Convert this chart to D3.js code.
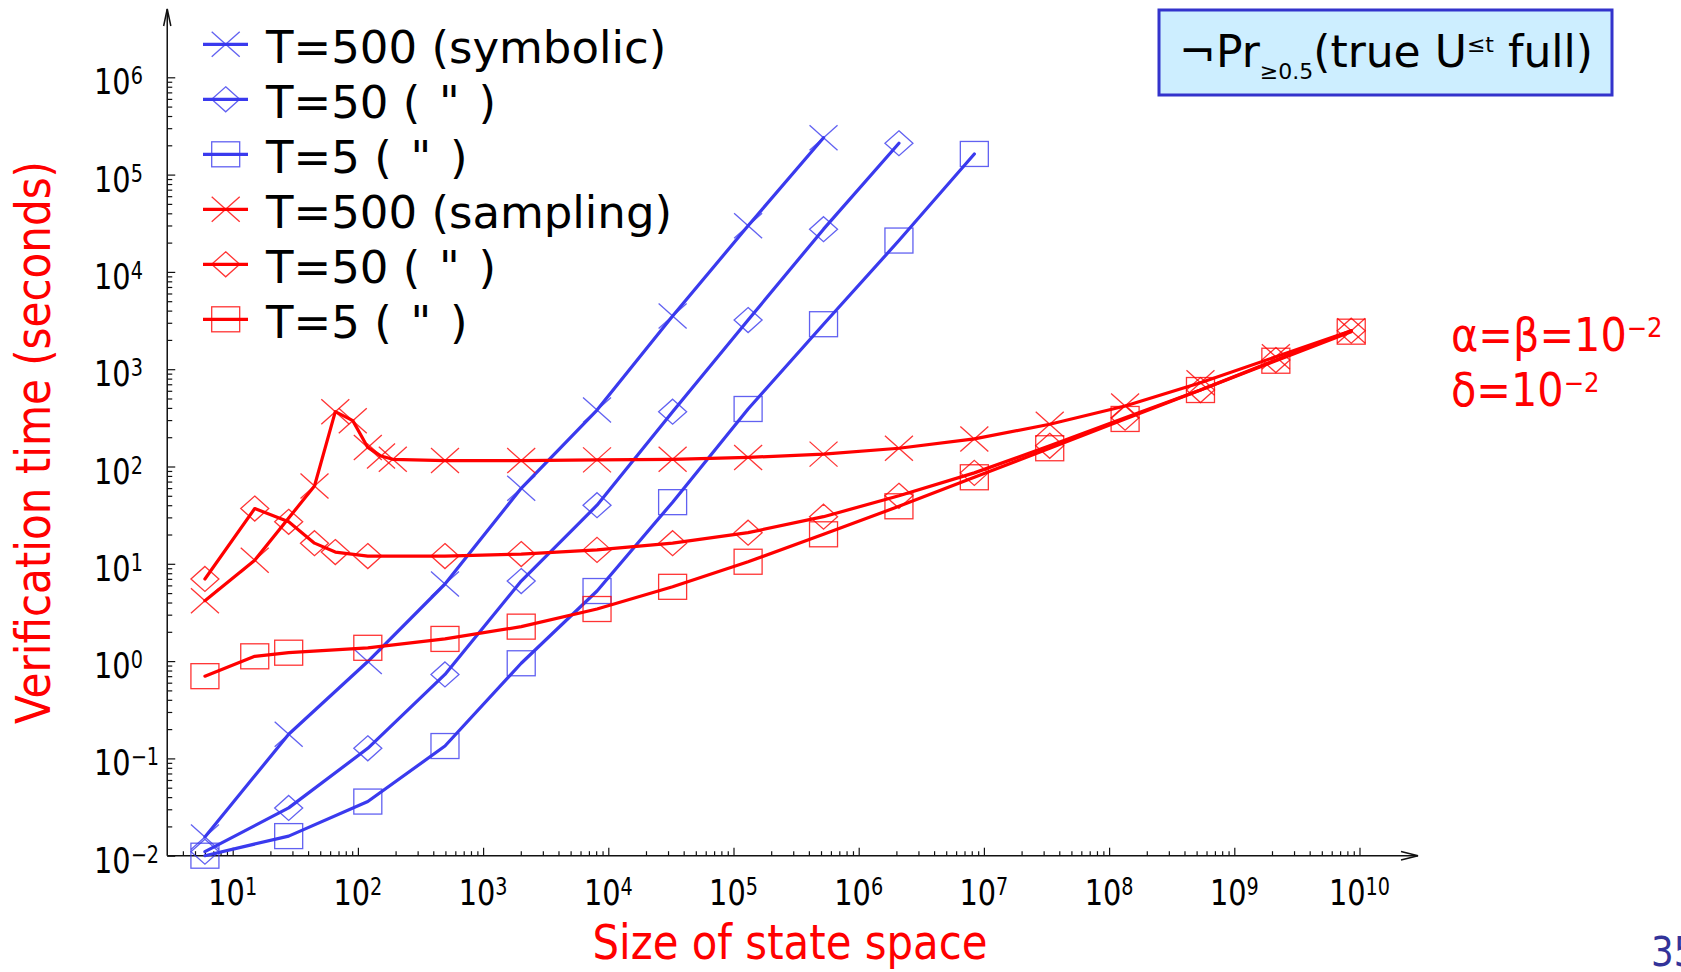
<!DOCTYPE html>
<html lang="en">
<head>
<meta charset="UTF-8">
<title>Verification time vs size of state space</title>
<style>
  html, body { margin: 0; padding: 0; background: #fff; overflow: hidden; }
  svg { display: block; }
  text { font-family: "DejaVu Sans", Verdana, sans-serif; }
</style>
</head>
<body>
<svg id="chart" width="1681" height="972"></svg>
<script src="https://cdn.jsdelivr.net/npm/d3@7/dist/d3.min.js"></script>
<script>
// Size of state space for each model instance (x values)
const stateSize = [6, 15, 28, 45, 66, 91, 120, 153, 190, 496, 2016, 8128, 32640, 130816,
  523776, 2096128, 8386560, 33550336, 134209536, 536854528, 2147450880, 8589869056];

// Verification time in seconds, aligned with stateSize (null = no point)
const symT500 = [0.0156, null, 0.177, null, null, null, 0.99, null, null, 6.2, 59.7, 380, 3520, 29800,
  239000, null, null, null, null, null, null, null];
const symT50 = [0.011, null, 0.031, null, null, null, 0.127, null, null, 0.73, 6.65, 40, 366, 3200,
  27500, 210000, null, null, null, null, null, null];
const symT5 = [0.0100, null, 0.0159, null, null, null, 0.036, null, null, 0.134, 0.95, 5.25, 43, 390,
  2900, 21000, 163000, null, null, null, null, null];
const smpT500 = [4.18, 10.9, null, 63, 366, 296, 157, 128, 118.5, 115, 115, 117, 118.5, 124,
  134, 154, 192, 272, 419, 726, 1343, 2490];
const smpT50 = [6.98, 37, 27, 16.3, 13.2, null, 12.0, null, null, 12.0, 12.6, 13.9, 16.3, 20.9,
  30.5, 50, 86, 163, 317, 611, 1242, 2490];
const smpT5 = [0.70, 1.12, 1.22, null, null, null, 1.37, null, null, 1.69, 2.26, 3.43, 5.8, 10.5,
  20.1, 39, 77.5, 154, 308, 611, 1222, 2430];

const legendLabels = ['T=500 (symbolic)', 'T=50 ( \u200a"\u200a )', 'T=5 ( \u200a"\u200a )',
  'T=500 (sampling)', 'T=50 ( \u200a"\u200a )', 'T=5 ( \u200a"\u200a )'];
const xExponents = [1, 2, 3, 4, 5, 6, 7, 8, 9, 10];
const yExponents = [-2, -1, 0, 1, 2, 3, 4, 5, 6];

const BLUE = '#3a3aee', RED = '#ff0000';

const series = [
  { vals: symT500, color: BLUE, shape: 'x' },
  { vals: symT50, color: BLUE, shape: 'diamond' },
  { vals: symT5, color: BLUE, shape: 'square' },
  { vals: smpT500, color: RED, shape: 'x' },
  { vals: smpT50, color: RED, shape: 'diamond' },
  { vals: smpT5, color: RED, shape: 'square' },
];

const svg = d3.select('#chart');

const x = d3.scaleLog().domain([10, 1e10]).range([232.7, 1359.5]);
const y = d3.scaleLog().domain([1e-2, 1e6]).range([855.7, 77.3]);
const x0 = x(3), y0 = y(1e-2);
const xEnd = 1418, yTop = 9;

// ---- ticks (major + minor) via d3 axes ----
const xMinor = [], yMinor = [];
for (let e = 0; e < 10; e++) for (let m = 2; m < 10; m++) { const v = m * Math.pow(10, e); if (v > 3) xMinor.push(v); }
for (let e = -2; e < 6; e++) for (let m = 2; m < 10; m++) yMinor.push(m * Math.pow(10, e));

function tickAxis(axis, transform) {
  svg.append('g').attr('transform', transform).attr('color', '#111')
    .call(axis)
    .call(g => g.select('.domain').remove())
    .call(g => g.selectAll('line').attr('stroke-width', 1.2));
}
tickAxis(d3.axisTop(x).tickValues(xMinor).tickSize(4.5).tickFormat(''), `translate(0,${y0})`);
tickAxis(d3.axisTop(x).tickValues(xExponents.map(e => Math.pow(10, e))).tickSize(8).tickFormat(''), `translate(0,${y0})`);
tickAxis(d3.axisRight(y).tickValues(yMinor).tickSize(5).tickFormat(''), `translate(${x0},0)`);
tickAxis(d3.axisRight(y).tickValues(yExponents.map(e => Math.pow(10, e))).tickSize(8).tickFormat(''), `translate(${x0},0)`);

// axis lines with open arrowheads
const axisG = svg.append('g').attr('fill', 'none').attr('stroke', '#111').attr('stroke-width', 1.5);
axisG.append('line').attr('x1', x0).attr('y1', y0).attr('x2', xEnd).attr('y2', y0);
axisG.append('line').attr('x1', x0).attr('y1', y0).attr('x2', x0).attr('y2', yTop);
axisG.append('polyline').attr('points', `${xEnd - 17},${y0 - 4.2} ${xEnd},${y0} ${xEnd - 17},${y0 + 4.2}`);
axisG.append('polyline').attr('points', `${x0 - 3.6},${yTop + 17} ${x0},${yTop} ${x0 + 3.6},${yTop + 17}`);

// ---- tick labels 10^n ----
function expText(e) { return e < 0 ? '\u2212' + (-e) : String(e); }
function powerLabel(tx, ty, e, anchor) {
  const t = svg.append('g').attr('transform', `translate(${tx},${ty}) scale(0.8,1)`)
    .append('text').attr('text-anchor', anchor).attr('fill', '#000');
  t.append('tspan').attr('font-size', 36).text('10');
  t.append('tspan').attr('font-size', 24).attr('dy', -10).text(expText(e));
}
xExponents.forEach(e => powerLabel(x(Math.pow(10, e)), 905, e, 'middle'));
yExponents.forEach(e => powerLabel(94, y(Math.pow(10, e)) + 17, e, 'start'));

// ---- axis titles ----
svg.append('text').attr('transform', 'translate(50,442.5) rotate(-90)')
  .attr('text-anchor', 'middle').attr('font-size', 48).attr('fill', RED)
  .attr('textLength', 563).attr('lengthAdjust', 'spacingAndGlyphs')
  .text('Verification time (seconds)');
svg.append('text').attr('x', 790).attr('y', 959)
  .attr('text-anchor', 'middle').attr('font-size', 48).attr('fill', RED)
  .attr('textLength', 395).attr('lengthAdjust', 'spacingAndGlyphs')
  .text('Size of state space');

// ---- markers ----
function drawMarker(g, shape, color) {
  const hw = 14, hh = 12.5;
  const m = g.append('g').attr('fill', 'none').attr('stroke', color)
    .attr('stroke-width', 1.3).attr('stroke-opacity', 0.8);
  if (shape === 'x') {
    m.append('line').attr('x1', -hw).attr('y1', -hh).attr('x2', hw).attr('y2', hh);
    m.append('line').attr('x1', -hw).attr('y1', hh).attr('x2', hw).attr('y2', -hh);
  } else if (shape === 'diamond') {
    m.append('polygon').attr('points', `0,${-hh} ${hw},0 0,${hh} ${-hw},0`);
  } else {
    m.append('rect').attr('x', -hw).attr('y', -hh).attr('width', 2 * hw).attr('height', 2 * hh);
  }
}

// ---- series ----
const line = d3.line().x(d => x(d[0])).y(d => y(d[1]));
const plot = svg.append('g');
series.forEach(s => {
  const pts = stateSize.map((v, i) => [v, s.vals[i]]).filter(d => d[1] != null);
  plot.append('path').datum(pts).attr('d', line)
    .attr('fill', 'none').attr('stroke', s.color).attr('stroke-width', 3.2)
    .attr('stroke-linejoin', 'round').attr('stroke-linecap', 'round');
  pts.forEach(d => drawMarker(plot.append('g').attr('transform', `translate(${x(d[0])},${y(d[1])})`), s.shape, s.color));
});

// ---- legend ----
const legend = svg.append('g');
series.forEach((s, i) => {
  const ly = 44.3 + i * 55;
  legend.append('line').attr('x1', 203).attr('x2', 248).attr('y1', ly).attr('y2', ly)
    .attr('stroke', s.color).attr('stroke-width', 3.2);
  drawMarker(legend.append('g').attr('transform', `translate(225.7,${ly})`), s.shape, s.color);
  legend.append('text').attr('x', 266).attr('y', ly + 18.4).attr('font-size', 45).attr('fill', '#000')
    .attr('xml:space', 'preserve')
    .text(legendLabels[i]);
});

// ---- formula box ----
svg.append('rect').attr('x', 1159).attr('y', 10).attr('width', 453).attr('height', 85)
  .attr('fill', '#cdeeff').attr('stroke', '#3333cc').attr('stroke-width', 3);
const ft = svg.append('text').attr('x', 1386).attr('y', 66.5).attr('text-anchor', 'middle')
  .attr('font-size', 44).attr('fill', '#000');
ft.append('tspan').text('\u00acPr');
ft.append('tspan').attr('font-size', 22).attr('dy', 12).text('\u22650.5');
ft.append('tspan').attr('dy', -12).text('(true U');
ft.append('tspan').attr('font-size', 22).attr('dy', -15).text('\u2264t');
ft.append('tspan').attr('dy', 15).text(' full)');

// ---- parameter note ----
function paramLine(tx, ty, main) {
  const t = svg.append('g').attr('transform', `translate(${tx},${ty}) scale(0.9,1)`)
    .append('text').attr('fill', RED);
  t.append('tspan').attr('font-size', 46).text(main);
  t.append('tspan').attr('font-size', 27).attr('dy', -14).text('\u22122');
}
paramLine(1451, 351, '\u03b1=\u03b2=10');
paramLine(1451, 406, '\u03b4=10');

// page number, cut by the right edge as in the slide
svg.append('g').attr('transform', 'translate(1651,966) scale(0.87,1)')
  .append('text').attr('font-size', 41).attr('fill', '#333399').text('35');
</script>
</body>
</html>
